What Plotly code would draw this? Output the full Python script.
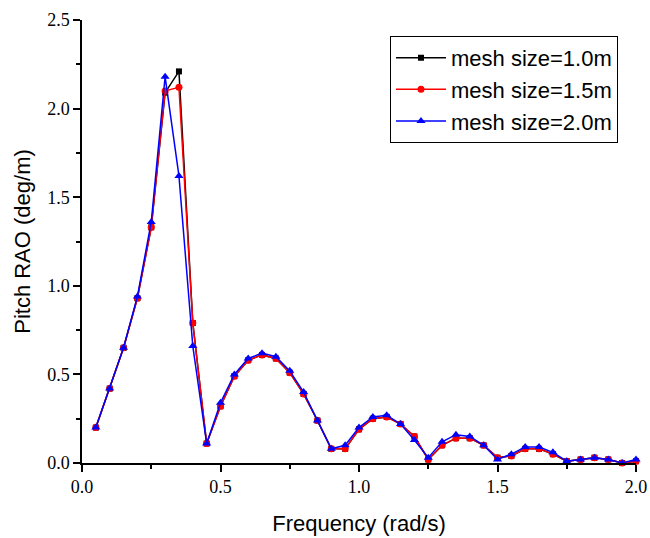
import plotly.graph_objects as go

freq = [0.05, 0.10, 0.15, 0.20, 0.25, 0.30, 0.35, 0.40, 0.45, 0.50,
        0.55, 0.60, 0.65, 0.70, 0.75, 0.80, 0.85, 0.90, 0.95, 1.00,
        1.05, 1.10, 1.15, 1.20, 1.25, 1.30, 1.35, 1.40, 1.45, 1.50,
        1.55, 1.60, 1.65, 1.70, 1.75, 1.80, 1.85, 1.90, 1.95, 2.00]

mesh_1_0 = [0.20, 0.42, 0.65, 0.93, 1.33, 2.09, 2.21, 0.79, 0.11, 0.32,
            0.49, 0.58, 0.61, 0.59, 0.51, 0.39, 0.24, 0.08, 0.08, 0.19,
            0.25, 0.26, 0.22, 0.15, 0.02, 0.10, 0.14, 0.14, 0.10, 0.03,
            0.04, 0.08, 0.08, 0.05, 0.01, 0.02, 0.03, 0.02, 0.00, 0.01]

mesh_1_5 = [0.20, 0.42, 0.65, 0.93, 1.33, 2.10, 2.12, 0.79, 0.11, 0.32,
            0.49, 0.58, 0.61, 0.59, 0.51, 0.39, 0.24, 0.08, 0.08, 0.19,
            0.25, 0.26, 0.22, 0.15, 0.02, 0.10, 0.14, 0.14, 0.10, 0.03,
            0.04, 0.08, 0.08, 0.05, 0.01, 0.02, 0.03, 0.02, 0.00, 0.01]

mesh_2_0 = [0.20, 0.42, 0.65, 0.94, 1.36, 2.18, 1.62, 0.66, 0.11, 0.34,
            0.50, 0.59, 0.62, 0.60, 0.52, 0.40, 0.24, 0.08, 0.10, 0.20,
            0.26, 0.27, 0.22, 0.13, 0.03, 0.12, 0.16, 0.15, 0.10, 0.02,
            0.05, 0.09, 0.09, 0.06, 0.01, 0.02, 0.03, 0.02, 0.00, 0.02]

series = [
    ("mesh size=1.0m", mesh_1_0, "black", "square", 6),
    ("mesh size=1.5m", mesh_1_5, "red", "circle", 7),
    ("mesh size=2.0m", mesh_2_0, "blue", "triangle-up", 8),
]

fig = go.Figure()
for name, vals, color, sym, size in series:
    fig.add_trace(go.Scatter(
        x=freq, y=vals, name=name, mode="lines+markers",
        line=dict(color=color, width=1.5),
        marker=dict(symbol=sym, size=size, color=color),
        cliponaxis=False,
    ))

tickfont = dict(family="Liberation Serif", size=18, color="black")
titlefont = dict(family="Liberation Sans", size=22, color="black")

fig.update_layout(
    width=650, height=538,
    margin=dict(l=82, r=14, t=20, b=75, autoexpand=False),
    plot_bgcolor="white", paper_bgcolor="white",
    showlegend=True,
    legend=dict(
        x=0.9675, y=0.964, xanchor="right", yanchor="top",
        bordercolor="black", borderwidth=1, bgcolor="white",
        font=dict(family="Liberation Sans", size=22, color="black"),
        tracegroupgap=0, itemwidth=50,
    ),
)
fig.update_xaxes(
    range=[0, 2.0], dtick=0.5, tickformat=".1f",
    showgrid=False, zeroline=False,
    showline=True, linecolor="black", linewidth=1.5,
    ticks="outside", ticklen=7, tickwidth=1.5, tickcolor="black",
    minor=dict(dtick=0.25, ticks="outside", ticklen=4, tickwidth=1.5, tickcolor="black"),
    tickfont=tickfont,
    title=dict(text="Frequency (rad/s)", font=titlefont, standoff=19),
)
fig.update_yaxes(
    range=[0, 2.5], dtick=0.5, tickformat=".1f",
    showgrid=False, zeroline=False,
    showline=True, linecolor="black", linewidth=1.5,
    ticks="outside", ticklen=7, tickwidth=1.5, tickcolor="black",
    minor=dict(dtick=0.25, ticks="outside", ticklen=4, tickwidth=1.5, tickcolor="black"),
    tickfont=tickfont,
    title=dict(text="Pitch RAO (deg/m)", font=titlefont, standoff=10),
)

fig.write_html("out.html", config={"displayModeBar": False},
               post_script="document.body.style.margin='0px';")
